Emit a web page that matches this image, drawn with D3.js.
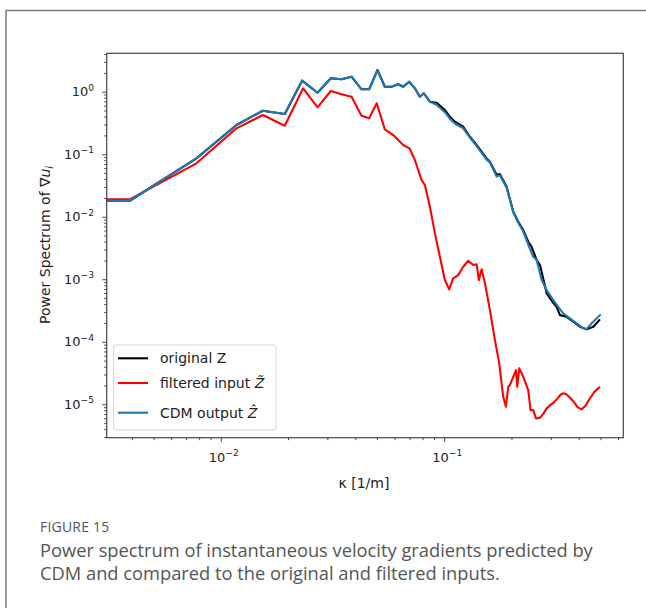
<!DOCTYPE html>
<html>
<head>
<meta charset="utf-8">
<script src="https://cdn.jsdelivr.net/npm/d3@7"></script>
<style>
  html, body { margin: 0; padding: 0; background: #fff; }
  svg { display: block; }
  .tick-label { font-family: "DejaVu Sans", sans-serif; font-size: 13px; fill: #222; }
  .axis-label { font-family: "DejaVu Sans", sans-serif; font-size: 14px; fill: #222; }
  .legend-text { font-family: "DejaVu Sans", sans-serif; font-size: 14px; fill: #222; }
  .caption { font-family: "Open Sans", sans-serif; fill: #555; }
</style>
</head>
<body>
<svg id="chart" width="646" height="608"></svg>
<script>
// Wavenumber (1/m) and spectral power for each series
const origK = [0.003086, 0.003914, 0.007783, 0.01176, 0.01542, 0.01934, 0.02312, 0.02710, 0.03109, 0.03472,
  0.03848, 0.04266, 0.04613, 0.05030, 0.05424, 0.05812, 0.06223, 0.06553, 0.06970, 0.07392,
  0.07781, 0.08110, 0.08630, 0.09247, 0.1007, 0.1060, 0.1116, 0.1217, 0.1303, 0.1397,
  0.1471, 0.1548, 0.1602, 0.1717, 0.1776, 0.1903, 0.2037, 0.2145, 0.2259, 0.2377,
  0.2462, 0.2593, 0.2684, 0.2874, 0.3077, 0.3187, 0.3297, 0.3533, 0.3781, 0.4051,
  0.4342, 0.4648, 0.4944];
const origP = [0.01803, 0.01803, 0.0860, 0.2933, 0.4966, 0.4396, 1.500, 0.9638, 1.639, 1.579,
  1.738, 1.092, 1.092, 2.224, 1.202, 1.202, 1.313, 1.202, 1.445, 1.133,
  0.8318, 0.9428, 0.6918, 0.6668, 0.5096, 0.3981, 0.3311, 0.2754, 0.1905, 0.1403,
  0.1096, 0.0850, 0.0760, 0.0470, 0.0480, 0.0302, 0.01202, 0.00832, 0.006126, 0.003981,
  0.003311, 0.002028, 0.001687, 0.000595, 0.000420, 0.000363, 0.000267, 0.000251, 0.000210, 0.000174,
  0.000158, 0.000174, 0.000222];

const filtK = [0.003086, 0.003914, 0.007783, 0.01176, 0.01542, 0.01934, 0.02337, 0.02710, 0.03109, 0.03472,
  0.03848, 0.04266, 0.04613, 0.04990, 0.05424, 0.05916, 0.06553, 0.06998, 0.07392, 0.07918,
  0.08196, 0.08630, 0.09088, 0.09567, 0.1007, 0.1053, 0.1097, 0.1155, 0.1217, 0.1281,
  0.1349, 0.1397, 0.1430, 0.1471, 0.1522, 0.1602, 0.1687, 0.1763, 0.1837, 0.1889,
  0.1934, 0.1968, 0.2037, 0.2095, 0.2123, 0.2167, 0.2259, 0.2377, 0.2436, 0.2503,
  0.2574, 0.2684, 0.2780, 0.2874, 0.2970, 0.3077, 0.3200, 0.3320, 0.3411, 0.3520,
  0.3640, 0.3781, 0.3950, 0.4123, 0.4300, 0.4493, 0.4700, 0.4944];
const filtP = [0.01898, 0.01898, 0.0715, 0.2597, 0.4238, 0.2858, 1.133, 0.5628, 1.026, 0.9086,
  0.8318, 0.4130, 0.3754, 0.6523, 0.2503, 0.2028, 0.1403, 0.1243, 0.0808, 0.03866,
  0.03215, 0.01445, 0.005425, 0.002291, 0.000971, 0.000689, 0.001034, 0.001168, 0.001585, 0.001977,
  0.001687, 0.001731, 0.000971, 0.00144, 0.00086, 0.000321, 0.0001065, 4.51e-5, 1.318e-5, 9.12e-6,
  1.905e-5, 2.029e-5, 2.754e-5, 3.526e-5, 1.905e-5, 3.754e-5, 2.754e-5, 1.687e-5, 8.08e-6, 8.08e-6,
  5.95e-6, 6.10e-6, 7.10e-6, 8.60e-6, 9.60e-6, 1.05e-5, 1.22e-5, 1.42e-5, 1.50e-5, 1.45e-5,
  1.30e-5, 1.12e-5, 9.0e-6, 8.3e-6, 9.6e-6, 1.25e-5, 1.58e-5, 1.864e-5];

const cdmK = [0.003086, 0.003914, 0.007783, 0.01176, 0.01542, 0.01934, 0.02312, 0.02710, 0.03109, 0.03472,
  0.03848, 0.04266, 0.04613, 0.05030, 0.05424, 0.05812, 0.06223, 0.06553, 0.06970, 0.07392,
  0.07781, 0.08110, 0.08630, 0.09247, 0.1007, 0.1060, 0.1116, 0.1217, 0.1303, 0.1397,
  0.1471, 0.1548, 0.1602, 0.1717, 0.1776, 0.1903, 0.2037, 0.2145, 0.2259, 0.2377,
  0.2503, 0.2593, 0.2731, 0.2874, 0.3077, 0.3240, 0.3411, 0.3655, 0.3916, 0.4193,
  0.4342, 0.4571, 0.4980];
const cdmP = [0.01803, 0.01803, 0.0860, 0.2933, 0.4966, 0.4396, 1.500, 0.9638, 1.639, 1.579,
  1.738, 1.092, 1.092, 2.224, 1.202, 1.202, 1.313, 1.202, 1.445, 1.133,
  0.8318, 0.9428, 0.6918, 0.62, 0.47, 0.37, 0.31, 0.26, 0.185, 0.135,
  0.105, 0.082, 0.074, 0.044, 0.046, 0.029, 0.0118, 0.0080, 0.0058, 0.0036,
  0.002291, 0.002028, 0.000971, 0.000672, 0.000465, 0.000363, 0.000285, 0.000237, 0.000197, 0.000164,
  0.000160, 0.000197, 0.000267];

const xMajorExp = [-2, -1];
const yMajorExp = [0, -1, -2, -3, -4, -5];

const seriesNames = ["original Z", "filtered input", "CDM output"];
const seriesColors = ["#000000", "#ff0000", "#1f77b4"];

const svg = d3.select("#chart");

// Page frame
svg.append("path")
  .attr("d", "M6,608 V10.5 H646")
  .attr("fill", "none").attr("stroke", "#7a7a7a").attr("stroke-width", 1.5);

const plot = { left: 106.7, right: 623.3, top: 53.3, bottom: 437.7 };

const x = d3.scaleLog()
  .domain([Math.pow(10, -2.5105), Math.pow(10, -0.1984)])
  .range([plot.left, plot.right]);
const y = d3.scaleLog()
  .domain([Math.pow(10, -5.5344), Math.pow(10, 0.6144)])
  .range([plot.bottom, plot.top]);

svg.append("clipPath").attr("id", "plotclip")
  .append("rect")
  .attr("x", plot.left).attr("y", plot.top)
  .attr("width", plot.right - plot.left).attr("height", plot.bottom - plot.top);

// Minor and major tick positions within each axis range
function logTicks(scale) {
  const [a, b] = scale.domain();
  const minor = [], major = [];
  for (let e = Math.floor(Math.log10(a)); e <= Math.ceil(Math.log10(b)); e++) {
    for (let m = 1; m <= 9; m++) {
      const v = m * Math.pow(10, e);
      if (v < a || v > b) continue;
      (m === 1 ? major : minor).push(v);
    }
  }
  return { minor, major };
}

const xt = logTicks(x), yt = logTicks(y);

const xAxisMajor = svg.append("g").attr("transform", `translate(0,${plot.bottom})`)
  .call(d3.axisBottom(x).tickValues(xt.major).tickFormat("").tickSize(4.5).tickSizeOuter(0));
const xAxisMinor = svg.append("g").attr("transform", `translate(0,${plot.bottom})`)
  .call(d3.axisBottom(x).tickValues(xt.minor).tickFormat("").tickSize(2.5).tickSizeOuter(0));
const yAxisMajor = svg.append("g").attr("transform", `translate(${plot.left},0)`)
  .call(d3.axisLeft(y).tickValues(yt.major).tickFormat("").tickSize(4.5).tickSizeOuter(0));
const yAxisMinor = svg.append("g").attr("transform", `translate(${plot.left},0)`)
  .call(d3.axisLeft(y).tickValues(yt.minor).tickFormat("").tickSize(2.5).tickSizeOuter(0));

[xAxisMajor, xAxisMinor, yAxisMajor, yAxisMinor].forEach(g => {
  g.select(".domain").remove();
  g.selectAll(".tick line").attr("stroke", "#333").attr("stroke-width", 0.9);
});

// Power-of-ten tick labels
function powLabel(parent, exp, px, py, anchor) {
  const t = parent.append("text").attr("class", "tick-label")
    .attr("x", px).attr("y", py).attr("text-anchor", anchor);
  t.append("tspan").text("10");
  t.append("tspan").attr("dy", -5.5).attr("font-size", "9.1px")
    .text(exp === 0 ? "0" : "\u2212" + Math.abs(exp));
  return t;
}

yMajorExp.forEach(e => powLabel(svg, e, 94, y(Math.pow(10, e)) + 4.5, "end"));
xMajorExp.forEach(e => powLabel(svg, e, x(Math.pow(10, e)) + 3, plot.bottom + 24, "middle"));

// Series lines
const line = d3.line().x(d => x(d[0])).y(d => y(d[1]));
const series = [
  d3.zip(origK, origP),
  d3.zip(filtK, filtP),
  d3.zip(cdmK, cdmP)
];
const lines = svg.append("g").attr("clip-path", "url(#plotclip)");
series.forEach((s, i) => {
  lines.append("path")
    .datum(s)
    .attr("d", line)
    .attr("fill", "none")
    .attr("stroke", seriesColors[i])
    .attr("stroke-width", 2.1)
    .attr("stroke-linejoin", "round")
    .attr("stroke-linecap", "square");
});

// Spines
svg.append("rect")
  .attr("x", plot.left).attr("y", plot.top)
  .attr("width", plot.right - plot.left).attr("height", plot.bottom - plot.top)
  .attr("fill", "none").attr("stroke", "#444").attr("stroke-width", 1.2);

// Axis titles
const xl = svg.append("text").attr("class", "axis-label")
  .attr("x", 364).attr("y", 488).attr("text-anchor", "middle");
xl.append("tspan").text("\u03ba [1/m]");

const yl = svg.append("text").attr("class", "axis-label")
  .attr("transform", "translate(50,245) rotate(-90)")
  .attr("text-anchor", "middle");
yl.append("tspan").text("Power Spectrum of \u2207");
yl.append("tspan").attr("font-style", "italic").text("u");
yl.append("tspan").attr("font-style", "italic").attr("font-size", "9.8px").attr("dy", 3).text("i");

// Legend
const legend = svg.append("g");
legend.append("rect")
  .attr("x", 113.5).attr("y", 345).attr("width", 162.5).attr("height", 85)
  .attr("rx", 3).attr("fill", "#fff").attr("fill-opacity", 0.8)
  .attr("stroke", "#d6d6d6").attr("stroke-width", 1);
const legendY = [358.3, 383, 412.7];
seriesNames.forEach((name, i) => {
  legend.append("line")
    .attr("x1", 118).attr("x2", 148)
    .attr("y1", legendY[i]).attr("y2", legendY[i])
    .attr("stroke", seriesColors[i]).attr("stroke-width", 2.1);
  const t = legend.append("text").attr("class", "legend-text")
    .attr("x", 160).attr("y", legendY[i] + 5);
  t.append("tspan").text(name + (i === 0 ? "" : " "));
  if (i === 1) t.append("tspan").attr("font-style", "italic").text("Z\u0303");
  if (i === 2) t.append("tspan").attr("font-style", "italic").text("\u1E90");
});

// Caption
svg.append("text").attr("class", "caption")
  .attr("x", 40).attr("y", 532).attr("font-size", "14px").attr("letter-spacing", "0.2px")
  .text("FIGURE 15");
svg.append("text").attr("class", "caption")
  .attr("x", 40).attr("y", 557).attr("font-size", "18.3px")
  .text("Power spectrum of instantaneous velocity gradients predicted by");
svg.append("text").attr("class", "caption")
  .attr("x", 40).attr("y", 580).attr("font-size", "18.3px")
  .text("CDM and compared to the original and filtered inputs.");
</script>
</body>
</html>
